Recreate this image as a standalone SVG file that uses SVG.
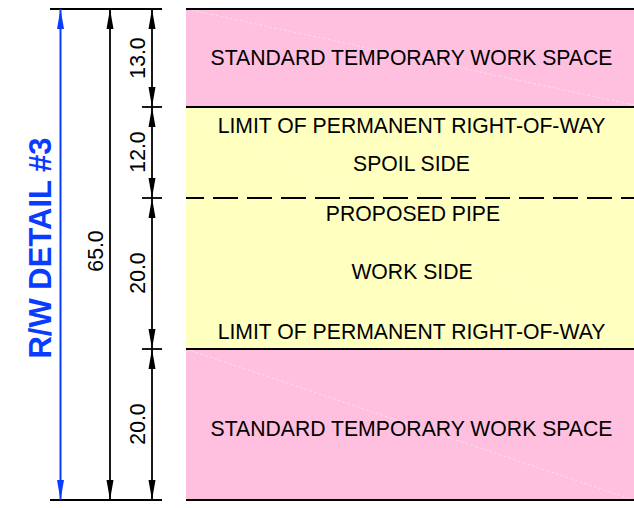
<svg xmlns="http://www.w3.org/2000/svg" width="634" height="508" viewBox="0 0 634 508">
<defs>
<marker id="ak" viewBox="0 -4 20 8" refX="20" refY="0" markerWidth="20" markerHeight="8" markerUnits="userSpaceOnUse" orient="auto-start-reverse"><path d="M0,-3.5 L20,0 L0,3.5 z" fill="#000"/></marker>
<marker id="ab" viewBox="0 -4 20 8" refX="20" refY="0" markerWidth="20" markerHeight="8" markerUnits="userSpaceOnUse" orient="auto-start-reverse"><path d="M0,-3.5 L20,0 L0,3.5 z" fill="#0a3cff"/></marker>
</defs>
<style>
.pink{fill:#ffbfdf}
.yel{fill:#ffffc0}
.edge{stroke:#000;stroke-width:2;fill:none}
.seam{stroke:#fff;stroke-width:0.8;opacity:0.55;stroke-dasharray:3 2}
.lbl{font-family:"Liberation Sans",Arial,sans-serif;font-size:21.2px;fill:#000;text-anchor:middle}
.dim{stroke:#000;stroke-width:1.8;fill:none}
.dimb{stroke:#0a3cff;stroke-width:2;fill:none}
.title{font-family:"Liberation Sans",Arial,sans-serif;font-size:31px;font-weight:bold;fill:#0a3cff;text-anchor:middle}
</style>
<rect width="634" height="508" fill="#fff"/>
<g id="top-temp-space">
<rect class="pink" x="186" y="9" width="448" height="98"/>
<line class="seam" x1="186" y1="9" x2="634" y2="105"/>
<text class="lbl" x="411.5" y="64.5">STANDARD TEMPORARY WORK SPACE</text>
</g>
<g id="permanent-row">
<rect class="yel" x="186" y="107" width="448" height="242"/>
<line class="seam" x1="186" y1="107" x2="634" y2="349"/>
<text class="lbl" x="411.5" y="133">LIMIT OF PERMANENT RIGHT-OF-WAY</text>
<text class="lbl" x="411.5" y="171">SPOIL SIDE</text>
<text class="lbl" x="413" y="221">PROPOSED PIPE</text>
<text class="lbl" x="412" y="278.5">WORK SIDE</text>
<text class="lbl" x="411.5" y="339">LIMIT OF PERMANENT RIGHT-OF-WAY</text>
</g>
<g id="bottom-temp-space">
<rect class="pink" x="186" y="349" width="448" height="151"/>
<line class="seam" x1="186" y1="349" x2="634" y2="500"/>
<text class="lbl" x="411.5" y="435.5">STANDARD TEMPORARY WORK SPACE</text>
</g>
<g id="boundaries">
<line class="edge" x1="186" y1="9" x2="634" y2="9"/>
<line class="edge" x1="186" y1="107" x2="634" y2="107"/>
<line class="edge" x1="186" y1="198" x2="634" y2="198" stroke-width="2.5" stroke-dasharray="25 9" stroke-dashoffset="7"/>
<line class="edge" x1="186" y1="349" x2="634" y2="349"/>
<line class="edge" x1="186" y1="500" x2="634" y2="500"/>
</g>
<g id="connectors">
<line class="dim" x1="50" y1="9" x2="162" y2="9"/>
<line class="dim" x1="50" y1="500" x2="162" y2="500"/>
<line class="dim" x1="142" y1="107" x2="162" y2="107"/>
<line class="dim" x1="142" y1="198" x2="162" y2="198"/>
<line class="dim" x1="142" y1="349" x2="162" y2="349"/>
<line class="dimb" x1="60.5" y1="9" x2="60.5" y2="500" marker-start="url(#ab)" marker-end="url(#ab)"/>
<line class="dim" x1="110" y1="9" x2="110" y2="500" marker-start="url(#ak)" marker-end="url(#ak)"/>
<line class="dim" x1="152" y1="9" x2="152" y2="107" marker-start="url(#ak)" marker-end="url(#ak)"/>
<line class="dim" x1="152" y1="107" x2="152" y2="198" marker-start="url(#ak)" marker-end="url(#ak)"/>
<line class="dim" x1="152" y1="198" x2="152" y2="349" marker-start="url(#ak)" marker-end="url(#ak)"/>
<line class="dim" x1="152" y1="349" x2="152" y2="500" marker-start="url(#ak)" marker-end="url(#ak)"/>
</g>
<g id="dimension-labels">
<text class="lbl" transform="translate(137,58) rotate(-90)" y="7.6">13.0</text>
<text class="lbl" transform="translate(137,152) rotate(-90)" y="7.6">12.0</text>
<text class="lbl" transform="translate(137,273) rotate(-90)" y="7.6">20.0</text>
<text class="lbl" transform="translate(137,424) rotate(-90)" y="7.6">20.0</text>
<text class="lbl" transform="translate(95,251) rotate(-90)" y="7.6">65.0</text>
</g>
<g id="title">
<text class="title" transform="translate(40,248) rotate(-90)" y="11">R/W DETAIL #3</text>
</g>
</svg>
